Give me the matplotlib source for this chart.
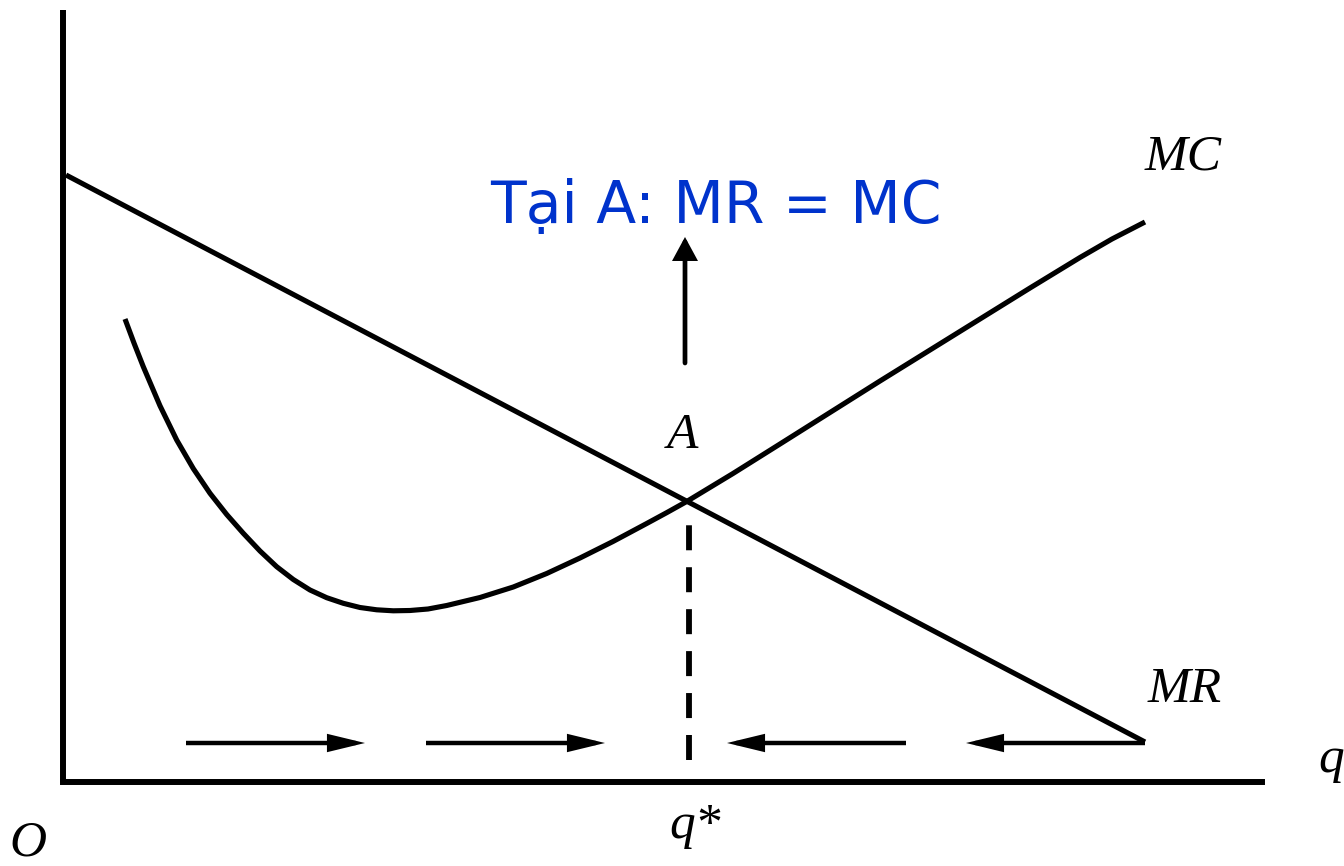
import matplotlib
matplotlib.use('Agg')
import matplotlib.pyplot as plt
from matplotlib.patches import FancyArrowPatch

plt.rcParams['lines.scale_dashes'] = False

# curve values, measured from the origin O (q to the right, price up)
mr_q = [3, 1082]
mr_p = [607, 40]

mc_q = [62, 71.2, 80.3, 97, 113.7, 130.3, 147, 163.7, 180.3, 197, 213.7, 230.3,
        247, 263.7, 280.3, 297, 313.7, 330.3, 347, 365, 383.7, 417, 450.3, 483.7,
        517, 550, 583.7, 604, 623.7, 670, 717, 767, 817, 867, 917, 967, 1017,
        1049, 1082]
mc_p = [463, 438.4, 415.3, 376.2, 342, 313.4, 288.7, 267.5, 248.7, 231, 215.3,
        202.5, 192, 184.3, 178.7, 174.5, 172.2, 171.2, 171.5, 173, 176.5, 184.5,
        195, 208.5, 224, 240.5, 258.5, 269.5, 280.5, 308.5, 338, 369.5, 401, 432,
        463, 494, 524.5, 543, 560]

q_star = 626
a_price = 281
q_max = 1199
p_max = 772

# movement arrows along the q axis: (start, end)
move_arrows = [(123, 302), (363, 542), (843, 664), (1082, 903)]
move_level = 39

title_text = 'Tại A: MR = MC'
blue = '#0033cc'

fig = plt.figure(figsize=(13.44, 8.66), dpi=100)
ax = fig.add_axes([0, 0, 1, 1])
ax.set_xlim(-63, 1281)
ax.set_ylim(-84, 782)
ax.axis('off')

# axes
ax.plot([0, 0], [0, p_max], color='black', lw=4.3, solid_capstyle='butt')
ax.plot([0, q_max], [0, 0], color='black', lw=4.3, solid_capstyle='projecting')

# curves
ax.plot(mr_q, mr_p, color='black', lw=3.7, solid_capstyle='butt')
ax.plot(mc_q, mc_p, color='black', lw=3.7, solid_capstyle='butt', solid_joinstyle='round')

# dashed drop line to q*
ax.plot([q_star, q_star], [22, a_price - 24], color='black', lw=4.2,
        linestyle=(0, (18, 12.2)), dash_capstyle='butt')

# up arrow from A to the label
ax.add_patch(FancyArrowPatch((q_star - 4, 419), (q_star - 4, 545),
                             arrowstyle='-|>,head_length=12,head_width=6.5',
                             mutation_scale=1, lw=3.4, color='black',
                             shrinkA=0, shrinkB=0, joinstyle='miter'))

# arrows along q pointing to q*
for x0, x1 in move_arrows:
    ax.add_patch(FancyArrowPatch((x0, move_level), (x1, move_level),
                                 arrowstyle='-|>,head_length=19,head_width=4.6',
                                 mutation_scale=1, lw=3.2, color='black',
                                 shrinkA=0, shrinkB=0, capstyle='butt',
                                 joinstyle='miter'))

serif = dict(family='Liberation Serif', style='italic', fontsize=37, color='black')
ax.text(1120, 612, 'MC', ha='center', va='baseline', **serif)
ax.text(1122, 80, 'MR', ha='center', va='baseline', **serif)
ax.text(619, 334, 'A', ha='center', va='baseline', **serif)
ax.text(1255, 10, 'q', ha='left', va='baseline', **serif)
ax.text(-35, -73, 'O', ha='center', va='baseline', **serif)
ax.text(632, -56, 'q*', ha='center', va='baseline', **serif)

ax.text(653, 559, title_text, ha='center', va='baseline', fontsize=42,
        family='DejaVu Sans', color=blue)

plt.savefig('out.png', dpi=100)
